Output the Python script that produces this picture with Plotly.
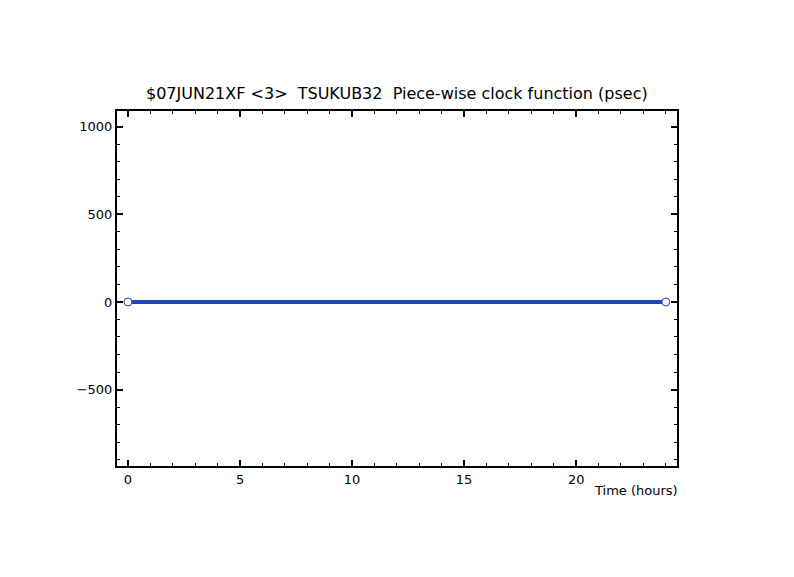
import plotly.graph_objects as go

# Data
time_hours = [0.0, 24.0]
clock_psec = [0.0, 0.0]

x_ticks = [0, 5, 10, 15, 20]
y_ticks = [-500, 0, 500, 1000]

title_text = "$07JUN21XF <3>  TSUKUB32  Piece-wise clock function (psec)"
xlabel = "Time (hours)"

blue = "rgb(35,68,180)"
font_family = "DejaVu Sans, Verdana, sans-serif"

fig = go.Figure()
fig.add_trace(go.Scatter(
    x=time_hours, y=clock_psec, mode="lines+markers",
    line=dict(color=blue, width=4),
    marker=dict(symbol="circle", size=8, color="white", line=dict(color=blue, width=1)),
    showlegend=False, hoverinfo="skip",
))

axis_common = dict(
    showgrid=False, zeroline=False, showline=True, linecolor="black", linewidth=2,
    mirror="ticks", ticks="inside", tickcolor="black", tickwidth=2, ticklen=6,
    tickfont=dict(family=font_family, size=13, color="black"),
)

fig.update_layout(
    width=794, height=577,
    margin=dict(l=109, r=125, t=103, b=119),
    paper_bgcolor="white", plot_bgcolor="white",
    font=dict(family=font_family, color="black"),
    xaxis=dict(range=[-0.49, 24.5], tickvals=x_ticks, ticktext=[str(v) for v in x_ticks],
               minor=dict(dtick=1, tick0=0, ticks="inside", ticklen=3, tickcolor="black", tickwidth=1),
               **axis_common),
    yaxis=dict(range=[-937, 1091], tickvals=y_ticks, ticktext=["\u2212500", "0", "500", "1000"],
               minor=dict(dtick=100, tick0=0, ticks="inside", ticklen=3, tickcolor="black", tickwidth=1),
               **axis_common),
    annotations=[
        dict(text=title_text, xref="paper", yref="paper", x=0.5, y=1.0, yshift=6,
             xanchor="center", yanchor="bottom", showarrow=False,
             font=dict(family=font_family, size=16, color="black")),
        dict(text=xlabel, xref="paper", yref="paper", x=1.0, y=0.0, yshift=-15, xshift=3,
             xanchor="right", yanchor="top", showarrow=False,
             font=dict(family=font_family, size=13, color="black")),
    ],
)

fig.write_html("out.html")
